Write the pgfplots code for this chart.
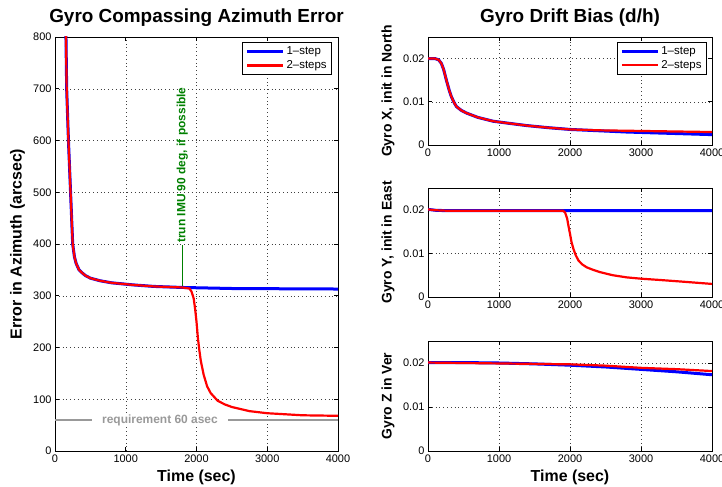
\documentclass[border=0pt]{standalone}
\usepackage{fontspec}
\setmainfont{Liberation Sans}
\usepackage{pgfplots}
\pgfplotsset{compat=1.18}
\definecolor{mgreen}{rgb}{0,0.5,0}
\definecolor{reqgray}{gray}{0.6}

\pgfplotsset{
  every axis title shift=0pt,
  gyro/.style={
    scale only axis,
    xmin=0, xmax=4000, xtick={0,1000,2000,3000,4000},
    grid=major,
    grid style={black!75, line width=0.4bp, dash pattern=on 0.8bp off 3bp},
    axis line style={line width=0.8bp},
    tick style={black, line width=0.6bp},
    major tick length=4bp, tick align=inside,
    tick label style={font=\fontsize{11}{13}\selectfont},
    /pgf/number format/assume math mode=true,
    /pgf/number format/1000 sep={},
    label style={font=\fontsize{14}{16}\selectfont\bfseries},
    title style={font=\fontsize{19}{21}\selectfont\bfseries},
    legend style={anchor=north east, draw=black, line width=0.8bp,
      font=\fontsize{11.5}{13}\selectfont, inner xsep=3bp, inner ysep=2.5bp,
      row sep=0.5bp, cells={anchor=west}},
    legend image code/.code={\draw[#1] (0bp,0bp) -- (36bp,0bp);},
  },
  step1/.style={blue, line width=3bp},
  step2/.style={red, line width=2.2bp},
  drift/.style={gyro, width=284bp,
    ymin=0, ymax=0.025, ytick={0,0.01,0.02}, scaled y ticks=false,
    yticklabel style={/pgf/number format/fixed, /pgf/number format/precision=2},
    ylabel style={at={(axis description cs:-0.141,0.5)}, anchor=center},
  },
}

\begin{document}
\begin{tikzpicture}
\useasboundingbox (0bp,0bp) rectangle (722bp,487bp);

% left panel: azimuth error
\begin{axis}[gyro, at={(55bp,36bp)}, anchor=south west,
  width=283bp, height=414bp,
  ymin=0, ymax=800, ytick={0,100,...,800},
  title={Gyro Compassing Azimuth Error},
  title style={at={(axis description cs:0.5,1.046)}, anchor=center},
  xlabel={Time (sec)}, ylabel={Error in Azimuth (arcsec)},
  label style={font=\fontsize{16}{18}\selectfont\bfseries},
  xlabel style={at={(axis description cs:0.5,-0.063)}, anchor=center},
  ylabel style={at={(axis description cs:-0.1325,0.5)}, anchor=center},
  legend style={at={(axis description cs:0.979,0.988)}},
]
\addplot[reqgray, line width=1.5bp, forget plot] coordinates {(0,60) (4000,60)};
\node[fill=white, text=reqgray, inner xsep=10bp, inner ysep=1bp,
  font=\fontsize{12}{14}\selectfont\bfseries] at (axis cs:1484,60) {requirement 60 asec};
\draw[mgreen, line width=1bp] (axis cs:1800,317) -- (axis cs:1800,398);
\node[rotate=90, anchor=west, text=mgreen, inner sep=1bp,
  font=\fontsize{12}{14}\selectfont\bfseries] at (axis cs:1800,400) {trun IMU 90 deg, if possible};
\addplot[step1] coordinates {
  (140,1000) (155,800) (165,700) (190,600) (220,500) (250,400) (275,375)
  (300,362) (340,350) (377,345) (430,339) (500,334) (636,329) (800,325)
  (1100,321) (1400,318) (1800,316) (2500,314) (3200,313.5) (4000,313)};
\addplot[step2] coordinates {
  (140,1000) (155,800) (165,700) (190,600) (220,500) (250,400) (275,375)
  (300,362) (340,350) (377,345) (430,339) (500,334) (636,329) (800,325)
  (1100,321) (1400,318) (1800,316) (1900,314) (1930,308) (1960,295)
  (1980,275) (2000,250) (2020,218) (2040,195) (2060,175) (2100,148)
  (2150,125) (2200,112) (2300,97) (2400,90) (2500,85) (2750,77)
  (3000,73) (3500,69) (4000,68)};
\legend{1--step, 2--steps}
\end{axis}

% right top: gyro X
\begin{axis}[drift, at={(428bp,342bp)}, anchor=south west, height=108bp,
  title={Gyro Drift Bias (d/h)},
  title style={at={(axis description cs:0.5,1.176)}, anchor=center},
  ylabel={Gyro X, init in North},
  legend style={at={(axis description cs:0.982,0.955)}},
]
\addplot[step1] coordinates {
  (0,0.0200) (100,0.0200) (150,0.0197) (188,0.0189) (220,0.0175)
  (259,0.0150) (300,0.0126) (329,0.0112) (365,0.0099) (400,0.0089)
  (470,0.0080) (541,0.0074) (700,0.0064) (918,0.0055) (1150,0.0050)
  (1388,0.0045) (1700,0.0040) (2000,0.0036) (2400,0.0033) (2800,0.0030)
  (3200,0.0028) (3600,0.0026) (4000,0.0024)};
\addplot[step2] coordinates {
  (0,0.0200) (100,0.0200) (150,0.0197) (188,0.0189) (220,0.0175)
  (259,0.0150) (300,0.0126) (329,0.0112) (365,0.0099) (400,0.0089)
  (470,0.0080) (541,0.0074) (700,0.0064) (918,0.0055) (1150,0.0050)
  (1388,0.0045) (1700,0.0040) (2000,0.0036) (2400,0.0034) (2800,0.0033)
  (3200,0.0032) (3600,0.0031) (4000,0.0030)};
\legend{1--step, 2--steps}
\end{axis}

% right middle: gyro Y
\begin{axis}[drift, at={(428bp,190bp)}, anchor=south west, height=109bp,
  ylabel={Gyro Y, init in East},
]
\addplot[step1] coordinates {
  (0,0.0201) (100,0.0199) (250,0.0198) (4000,0.0198)};
\addplot[step2] coordinates {
  (0,0.0201) (100,0.0199) (250,0.0198) (1900,0.0198) (1930,0.0194)
  (1960,0.0180) (1976,0.0165) (2000,0.0145) (2020,0.0127) (2047,0.0111)
  (2080,0.0096) (2118,0.0084) (2170,0.0075) (2235,0.0068) (2330,0.0062)
  (2424,0.0057) (2600,0.0050) (2800,0.0045) (3000,0.0042) (3270,0.0039)
  (3600,0.0035) (4000,0.0030)};
\end{axis}

% right bottom: gyro Z
\begin{axis}[drift, at={(428bp,36bp)}, anchor=south west, height=110bp,
  ylabel={Gyro Z in Ver}, xlabel={Time (sec)},
  xlabel style={at={(axis description cs:0.5,-0.236)}, anchor=center,
    font=\fontsize{16}{18}\selectfont\bfseries},
]
\addplot[step1] coordinates {
  (0,0.0201) (500,0.0201) (1000,0.0200) (1500,0.0198) (2000,0.0195)
  (2500,0.0191) (3000,0.01855) (3500,0.0180) (4000,0.01733)};
\addplot[step2] coordinates {
  (0,0.0201) (500,0.0200) (1000,0.0199) (1500,0.0198) (2000,0.0197)
  (2500,0.0194) (3000,0.0189) (3500,0.0186) (4000,0.01817)};
\end{axis}
\end{tikzpicture}
\end{document}
